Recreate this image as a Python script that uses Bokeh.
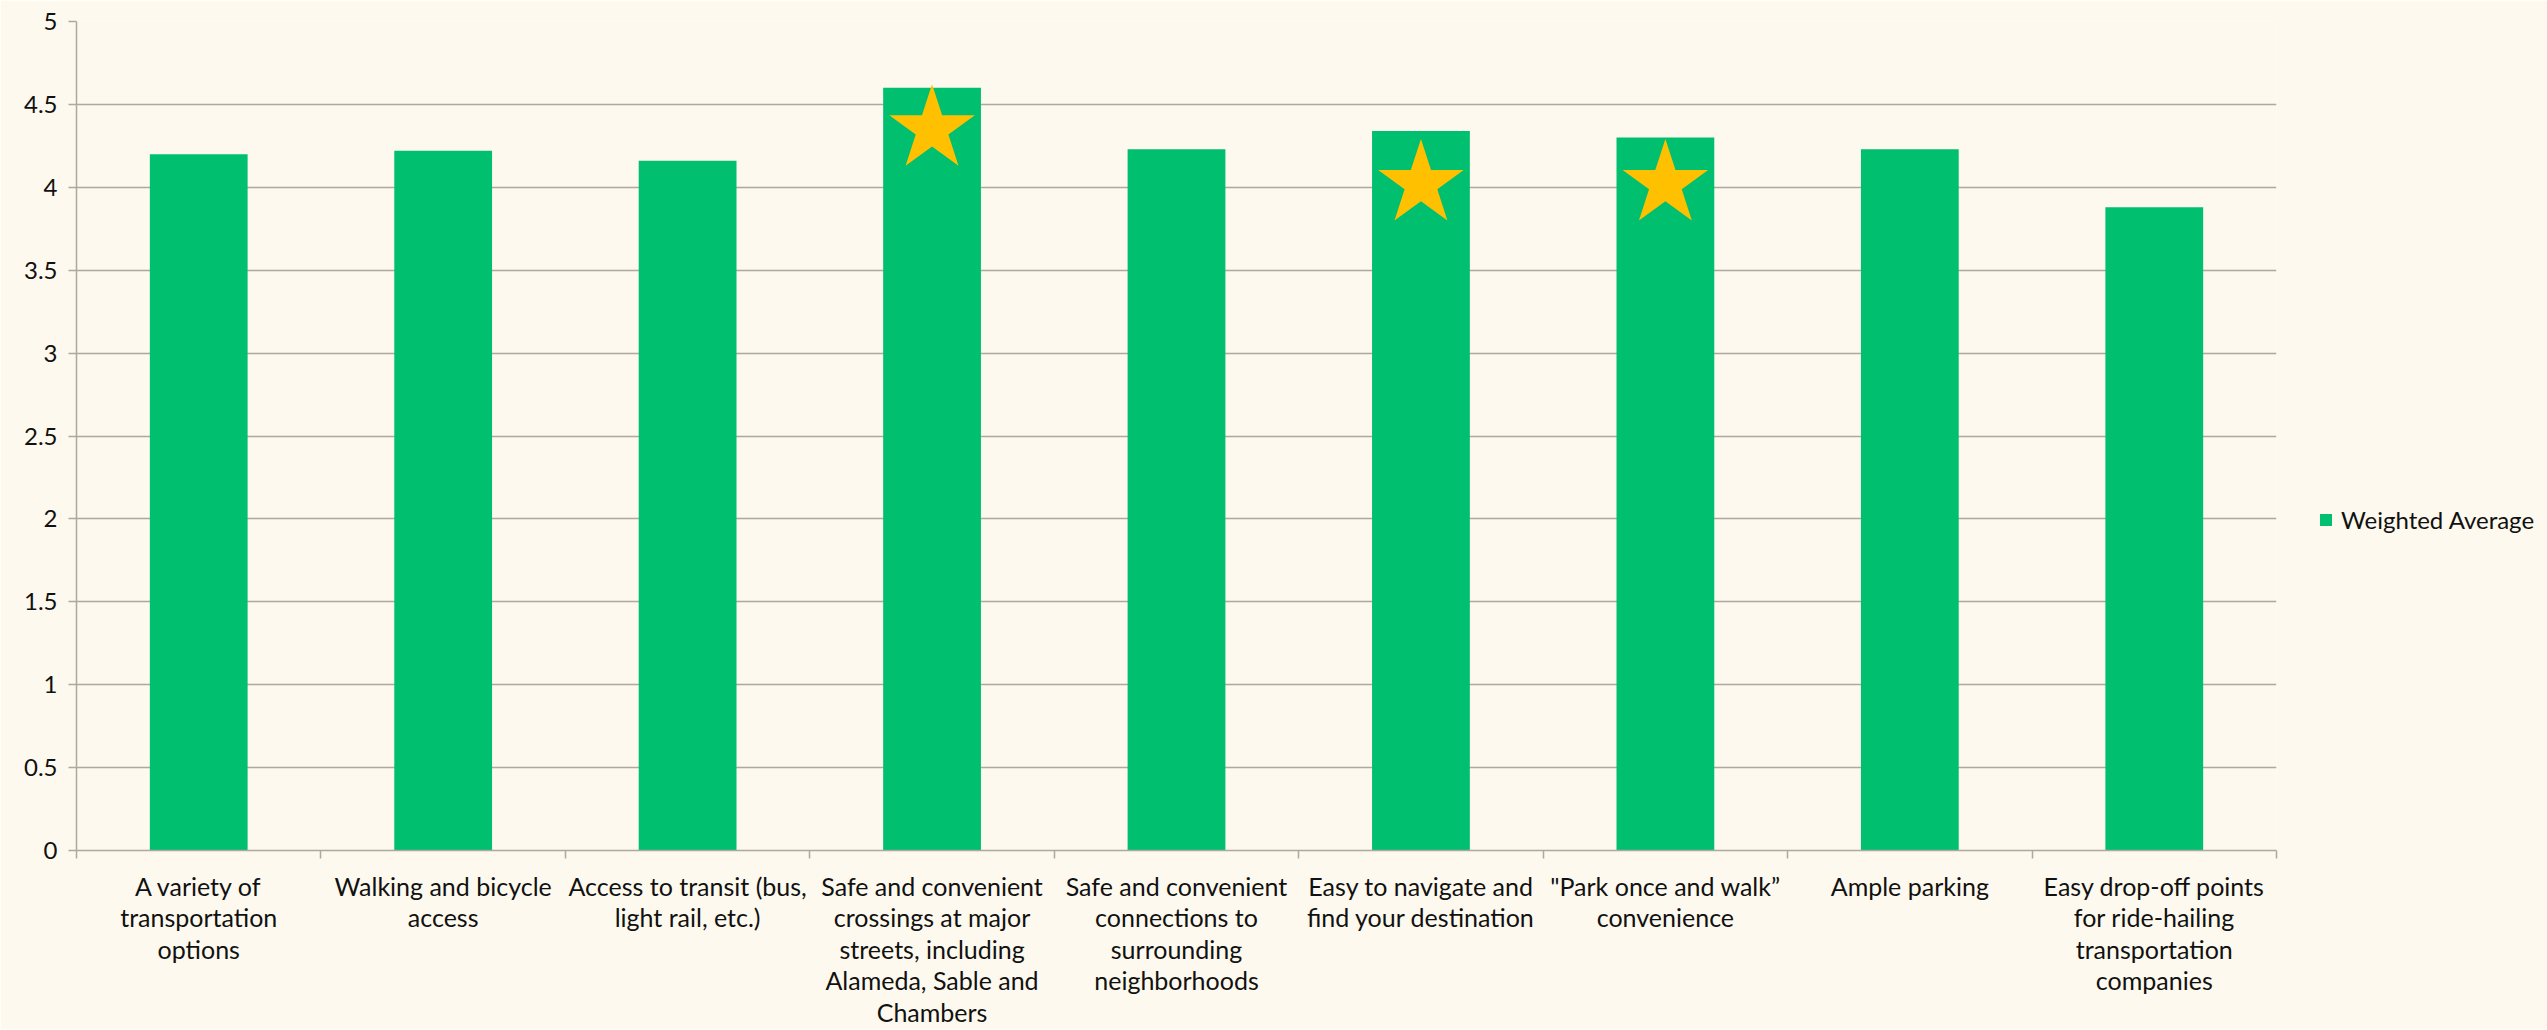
import numpy as np
from bokeh.plotting import figure
from bokeh.models import Range1d, LinearAxis, FixedTicker, Legend, LegendItem
from bokeh.embed import file_html
from bokeh.resources import INLINE

categories = [
    "A variety of\ntransportation\noptions",
    "Walking and bicycle\naccess",
    "Access to transit (bus,\nlight rail, etc.)",
    "Safe and convenient\ncrossings at major\nstreets, including\nAlameda, Sable and\nChambers",
    "Safe and convenient\nconnections to\nsurrounding\nneighborhoods",
    "Easy to navigate and\nfind your destination",
    "\"Park once and walk\u201d\nconvenience",
    "Ample parking",
    "Easy drop-off points\nfor ride-hailing\ntransportation\ncompanies",
]
weighted_average = [4.20, 4.22, 4.16, 4.60, 4.23, 4.34, 4.30, 4.23, 3.88]
series_name = "Weighted Average"

star_index = [3, 5, 6]
star_values = [4.35, 4.02, 4.02]

y_ticks = [0, 0.5, 1, 1.5, 2, 2.5, 3, 3.5, 4, 4.5, 5]
y_tick_labels = ["0", "0.5", "1", "1.5", "2", "2.5", "3", "3.5", "4", "4.5", "5"]

BG = "#FDF9EE"
GREEN = "#00BF6F"
GOLD = "#FFC000"
GRID = "#ADA9A1"
TXT = "#111111"
FONT = "Lato"
FS = "24px"
FS_X = "25px"

n = len(categories)
centers = (np.arange(n) + 0.5).tolist()
bounds = list(range(n + 1))

p = figure(x_range=Range1d(0, n), y_range=Range1d(0, 5),
           frame_width=2200, frame_height=829,
           min_border_left=76, min_border_top=21, min_border_right=271, min_border_bottom=176,
           output_backend="svg", toolbar_location=None,
           x_axis_location=None, y_axis_location=None)
p.background_fill_color = BG
p.border_fill_color = BG
p.outline_line_color = None

# y axis
yax = LinearAxis(ticker=FixedTicker(ticks=y_ticks),
                 major_label_overrides={t: l for t, l in zip(y_ticks, y_tick_labels)})
yax.axis_line_color = GRID
yax.axis_line_width = 1.5
yax.major_tick_line_color = GRID
yax.major_tick_line_width = 1.5
yax.major_tick_out = 8
yax.major_tick_in = 0
yax.minor_tick_line_color = None
yax.major_label_standoff = 11
yax.major_label_text_font = FONT
yax.major_label_text_font_size = FS
yax.major_label_text_color = TXT
p.add_layout(yax, "left")

# category axis: labels at centres, (minor) ticks at category boundaries
cax = LinearAxis(ticker=FixedTicker(ticks=centers, minor_ticks=bounds),
                 major_label_overrides={c: lab for c, lab in zip(centers, categories)})
cax.axis_line_color = GRID
cax.axis_line_width = 1.5
cax.major_tick_line_color = None
cax.major_tick_out = 0
cax.major_tick_in = 0
cax.minor_tick_line_color = GRID
cax.minor_tick_line_width = 1.5
cax.minor_tick_out = 8
cax.minor_tick_in = 0
cax.major_label_standoff = 12
cax.major_label_text_font = FONT
cax.major_label_text_font_size = FS_X
cax.major_label_text_color = TXT
cax.major_label_text_line_height = 1.05
cax.major_label_text_align = "center"
p.add_layout(cax, "below")

p.xgrid.visible = False
p.ygrid.ticker = FixedTicker(ticks=y_ticks)
p.ygrid.grid_line_color = GRID
p.ygrid.grid_line_width = 1.5

bars = p.vbar(x=centers, top=weighted_average, width=0.4, fill_color=GREEN, line_color=None)
p.scatter(x=[centers[i] for i in star_index], y=star_values, marker="star", size=90,
          fill_color=GOLD, line_color=None)

legend = Legend(items=[LegendItem(label=series_name, renderers=[bars])],
                location=(42, 316), orientation="vertical")
legend.border_line_color = None
legend.background_fill_alpha = 0
legend.padding = 0
legend.margin = 0
legend.glyph_width = 15
legend.glyph_height = 15
legend.label_standoff = 8
legend.label_text_font = FONT
legend.label_text_font_size = FS
legend.label_text_color = TXT
p.add_layout(legend, "right")

open("out.html", "w").write(file_html(p, INLINE))
